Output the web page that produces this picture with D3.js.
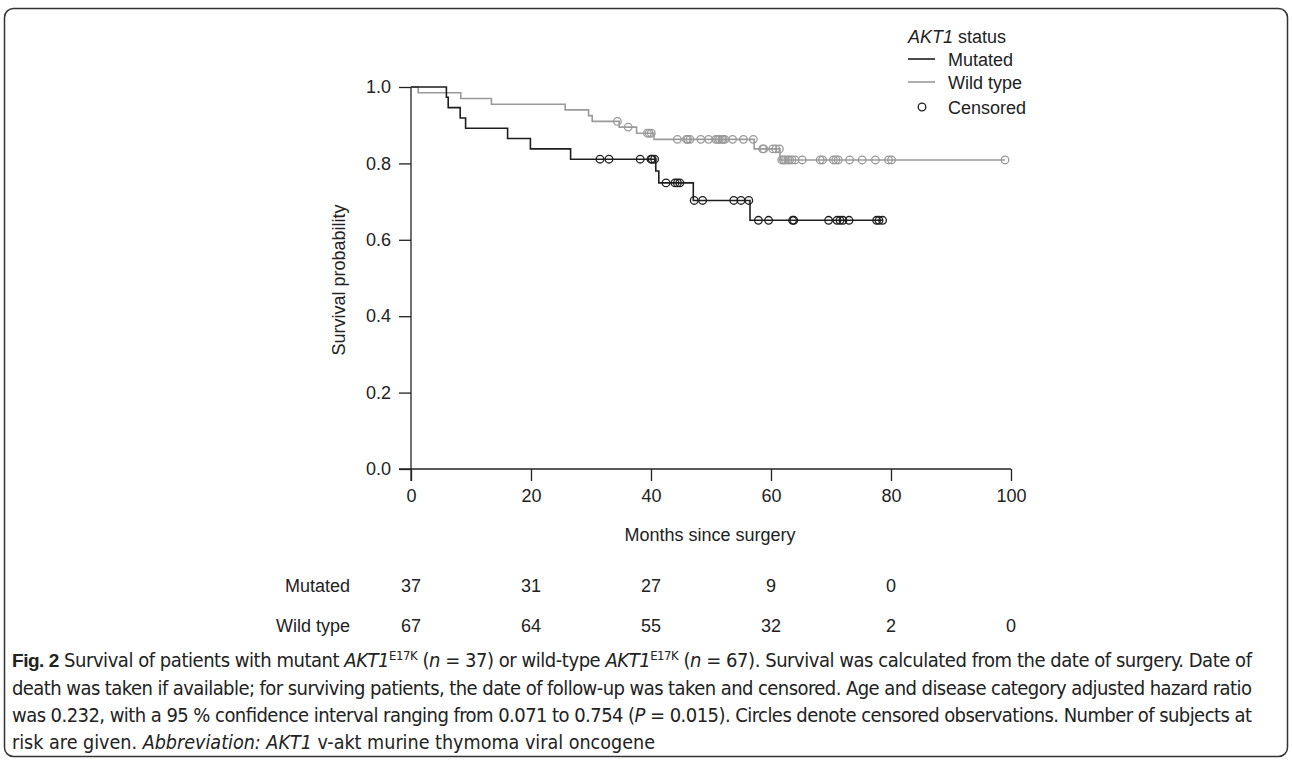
<!DOCTYPE html>
<html>
<head>
<meta charset="utf-8">
<script src="https://cdn.jsdelivr.net/npm/d3@7"></script>
<style>
  body { margin: 0; background: #fff; }
  svg { display: block; }
  .axis text { font-family: "Liberation Sans", Arial, sans-serif; font-size: 18px; fill: #222; }
  .axis path, .axis line { stroke: #222; stroke-width: 1.3; }
  .lbl { font-family: "Liberation Sans", Arial, sans-serif; font-size: 18px; fill: #222; }
  .cap { font-family: "Liberation Sans Narrow", "DejaVu Sans Condensed", sans-serif; font-size: 20px; fill: #222; }
</style>
</head>
<body>
<svg id="km" width="1292" height="761"></svg>
<script>
// Kaplan-Meier steps: [months, survival]
const mutatedSteps = [[0, 1], [5.9, 0.973], [6.2, 0.946], [8.2, 0.919], [9.1, 0.892], [16.1, 0.865],
  [19.9, 0.838], [26.6, 0.811], [40.8, 0.780], [41.3, 0.749], [47.05, 0.703], [56.5, 0.651]];
const mutatedEnd = 78.6;
const mutatedCensored = [31.5, 33.0, 38.2, 40.0, 40.2, 40.6, 42.5, 44.0, 44.4, 44.8, 47.2, 48.6,
  53.8, 55.0, 56.3, 57.9, 59.6, 63.6, 63.8, 69.6, 71.0, 71.5, 72.0, 73.0, 77.6, 78.0, 78.6];

const wildSteps = [[0, 1], [1.2, 0.985], [8.3, 0.970], [13.4, 0.955], [25.7, 0.940], [29.6, 0.925],
  [30.2, 0.910], [34.7, 0.895], [37.6, 0.879], [40.5, 0.863], [57.2, 0.838], [61.5, 0.809]];
const wildEnd = 99.0;
const wildCensored = [34.4, 36.2, 39.4, 39.7, 40.05, 44.4, 45.9, 46.1, 46.5, 48.3, 49.6, 50.8, 51.1,
  51.4, 51.8, 52.0, 52.3, 53.6, 55.4, 57.05, 58.6, 58.8, 60.3, 60.8, 61.4, 61.8, 62.1, 62.4, 62.8,
  63.1, 63.5, 64.0, 65.2, 68.2, 68.6, 70.4, 70.8, 71.2, 73.1, 75.2, 77.4, 79.6, 80.1, 99.0];

// numbers at risk
const riskTimes = [0, 20, 40, 60, 80, 100];
const riskMutated = [37, 31, 27, 9, 0];
const riskWild = [67, 64, 55, 32, 2, 0];

const xTicks = [0, 20, 40, 60, 80, 100];
const yTicks = [0, 0.2, 0.4, 0.6, 0.8, 1.0];

const svg = d3.select("#km");

// frame round the figure
svg.append("rect")
  .attr("x", 4.5).attr("y", 8.5)
  .attr("width", 1283).attr("height", 748)
  .attr("rx", 9)
  .attr("fill", "none")
  .attr("stroke", "#333")
  .attr("stroke-width", 1.5);

const x = d3.scaleLinear().domain([0, 100]).range([411, 1011]);
const y = d3.scaleLinear().domain([0, 1]).range([469, 87]);

// axes
svg.append("g")
  .attr("class", "axis")
  .attr("transform", `translate(0, ${y(0)})`)
  .call(d3.axisBottom(x).tickValues(xTicks).tickSize(12).tickPadding(8).tickFormat(d3.format("d")));

svg.append("g")
  .attr("class", "axis")
  .attr("transform", `translate(${x(0)}, 0)`)
  .call(d3.axisLeft(y).tickValues(yTicks).tickSize(12).tickPadding(8).tickFormat(d3.format(".1f")));

svg.selectAll(".axis .domain").attr("d", function () {
  // plain lines, no end caps
  return d3.select(this.parentNode).attr("transform").includes(`translate(0,`)
    ? `M${x(0) - 12},0H${x(100)}` : `M0,${y(0) + 12}V${y(1)}`;
});

// axis titles
svg.append("text")
  .attr("class", "lbl")
  .attr("x", 710).attr("y", 541)
  .attr("text-anchor", "middle")
  .text("Months since surgery");

svg.append("text")
  .attr("class", "lbl")
  .attr("transform", "translate(345, 280) rotate(-90)")
  .attr("text-anchor", "middle")
  .text("Survival probability");

// step curves
const stepLine = d3.line()
  .x((d) => x(d[0]))
  .y((d) => y(d[1]))
  .curve(d3.curveStepAfter);

const survAt = (steps, t) => {
  const i = d3.bisector((d) => d[0]).right(steps, t) - 1;
  return steps[Math.max(i, 0)][1];
};

const groups = [
  { steps: mutatedSteps, end: mutatedEnd, cens: mutatedCensored, color: "#1e1e1e" },
  { steps: wildSteps, end: wildEnd, cens: wildCensored, color: "#9a9a9a" },
];

// draw wild type first so mutated is on top
groups.slice().reverse().forEach((g) => {
  const pts = g.steps.concat([[g.end, g.steps[g.steps.length - 1][1]]]);
  svg.append("path")
    .datum(pts)
    .attr("d", stepLine)
    .attr("fill", "none")
    .attr("stroke", g.color)
    .attr("stroke-width", 1.6);

  svg.append("g")
    .selectAll("circle")
    .data(g.cens)
    .join("circle")
    .attr("cx", (d) => x(d))
    .attr("cy", (d) => y(survAt(g.steps, d)))
    .attr("r", 3.8)
    .attr("fill", "none")
    .attr("stroke", g.color)
    .attr("stroke-width", 1.3);
});

// legend
const lg = svg.append("g").attr("class", "lbl");
const t0 = lg.append("text").attr("x", 908).attr("y", 43);
t0.append("tspan").attr("font-style", "italic").text("AKT1");
t0.append("tspan").text(" status");

[["Mutated", "#1e1e1e", 59], ["Wild type", "#9a9a9a", 82]].forEach(([name, col, yy]) => {
  lg.append("line")
    .attr("x1", 908).attr("x2", 935)
    .attr("y1", yy).attr("y2", yy)
    .attr("stroke", col).attr("stroke-width", 1.6);
  lg.append("text").attr("x", 948).attr("y", yy + 6.5).text(name);
});
lg.append("circle")
  .attr("cx", 922).attr("cy", 107).attr("r", 3.8)
  .attr("fill", "none").attr("stroke", "#1e1e1e").attr("stroke-width", 1.3);
lg.append("text").attr("x", 948).attr("y", 113.5).text("Censored");

// number at risk table
[["Mutated", riskMutated, 591.5], ["Wild type", riskWild, 631.5]].forEach(([name, vals, yy]) => {
  svg.append("text")
    .attr("class", "lbl")
    .attr("x", 350).attr("y", yy)
    .attr("text-anchor", "end")
    .text(name);
  svg.append("g")
    .selectAll("text")
    .data(vals)
    .join("text")
    .attr("class", "lbl")
    .attr("x", (d, i) => x(riskTimes[i]))
    .attr("y", yy)
    .attr("text-anchor", "middle")
    .text((d) => d);
});

// caption, one array per line: [text, style]
const captionLines = [
  [["Fig. 2", "b"], [" Survival of patients with mutant "], ["AKT1", "i"], ["E17K", "sup"], [" ("], ["n", "i"],
   [" = 37) or wild-type "], ["AKT1", "i"], ["E17K", "sup"], [" ("], ["n", "i"],
   [" = 67). Survival was calculated from the date of surgery. Date of"]],
  [["death was taken if available; for surviving patients, the date of follow-up was taken and censored. Age and disease category adjusted hazard ratio"]],
  [["was 0.232, with a 95 % confidence interval ranging from 0.071 to 0.754 ("], ["P", "i"],
   [" = 0.015). Circles denote censored observations. Number of subjects at"]],
  [["risk are given. "], ["Abbreviation: AKT1", "i"], [" v-akt murine thymoma viral oncogene"]],
];
const captionY = [667, 695, 722, 749];
const captionW = [1240, 1240, 1240, 643];

captionLines.forEach((parts, li) => {
  const t = svg.append("text")
    .attr("class", "cap")
    .attr("x", 12).attr("y", captionY[li])
    .attr("textLength", captionW[li])
    .attr("lengthAdjust", li < 3 ? "spacing" : "spacingAndGlyphs");
  parts.forEach(([s, st]) => {
    const ts = t.append("tspan").text(s);
    if (st === "b") ts.attr("font-weight", "bold").attr("font-family", "'Liberation Sans', Arial, sans-serif").attr("font-size", "19px");
    if (st === "i") ts.attr("font-style", "italic");
    if (st === "sup") ts.attr("font-size", "13px").attr("baseline-shift", "super");
  });
});
</script>
</body>
</html>
